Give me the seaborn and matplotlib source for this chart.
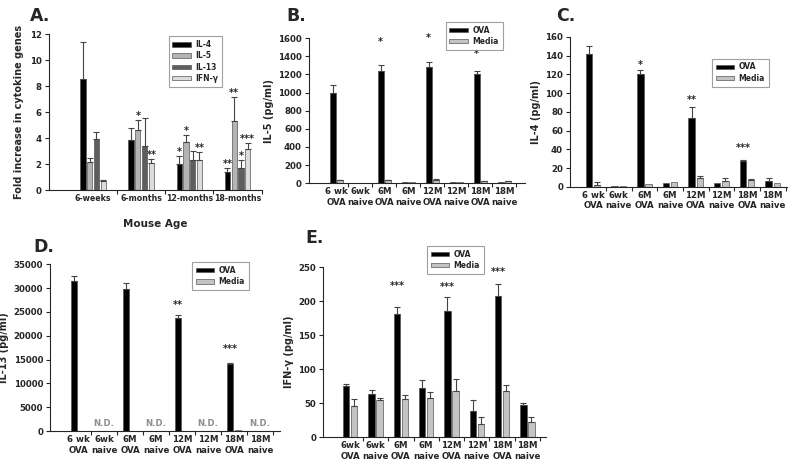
import numpy as np
import pandas as pd
import seaborn as sns
import matplotlib.pyplot as plt

# ---------- data ----------
ages = ["6-weeks", "6-months", "12-months", "18-months"]
genes = ["IL-4", "IL-5", "IL-13", "IFN-γ"]
fold_il4 = [8.55, 3.85, 2.0, 1.4]
fold_il5 = [2.15, 4.65, 3.7, 5.35]
fold_il13 = [3.9, 3.4, 2.35, 1.7]
fold_ifng = [0.7, 2.1, 2.3, 3.15]
fold_il4_err = [2.85, 0.95, 0.6, 0.3]
fold_il5_err = [0.35, 0.75, 0.55, 1.8]
fold_il13_err = [0.6, 2.15, 0.65, 0.65]
fold_ifng_err = [0.05, 0.3, 0.65, 0.45]
# significance: (age index, gene index, label, y)
stars_a = [(1, 1, "*", 5.7), (1, 3, "**", 2.7),
           (2, 0, "*", 2.9), (2, 1, "*", 4.55), (2, 3, "**", 3.25),
           (3, 0, "**", 2.0), (3, 1, "**", 7.45), (3, 2, "*", 2.65), (3, 3, "***", 3.95)]

groups = ["6 wk\nOVA", "6wk\nnaive", "6M\nOVA", "6M\nnaive",
          "12M\nOVA", "12M\nnaive", "18M\nOVA", "18M\nnaive"]
groups_e = ["6wk\nOVA", "6wk\nnaive", "6M\nOVA", "6M\nnaive",
            "12M\nOVA", "12M\nnaive", "18M\nOVA", "18M\nnaive"]

il5_ova = [1000, 5, 1240, 18, 1280, 8, 1210, 8]
il5_ova_err = [80, 0, 60, 0, 55, 0, 25, 0]
il5_media = [30, 3, 30, 15, 30, 8, 22, 20]
il5_media_err = [5, 0, 5, 0, 15, 0, 3, 3]
stars_b = [(2, "*", 1560), (4, "*", 1600), (6, "*", 1430)]

il4_ova = [142, 0.5, 120, 4, 73, 4, 28, 6]
il4_ova_err = [8, 0, 5, 0, 12, 0, 1, 3]
il4_media = [2, 0.5, 3, 5, 9, 6, 7, 4]
il4_media_err = [3, 0, 0, 0, 3, 3, 1, 0]
stars_c = [(2, "*", 130), (4, "**", 93), (6, "***", 41)]

il13_ova = [31500, 0, 29800, 0, 23700, 0, 14100, 0]
il13_ova_err = [1000, 0, 1200, 0, 600, 0, 200, 0]
il13_media = [100, 0, 100, 100, 0, 100, 200, 0]
il13_media_err = [0, 0, 0, 0, 0, 0, 0, 0]
stars_d = [(4, "**", 26500), (6, "***", 17200)]
nd_d = [1, 3, 5, 7]

ifng_ova = [75, 64, 181, 72, 186, 39, 207, 47]
ifng_ova_err = [3, 5, 10, 12, 20, 15, 18, 3]
ifng_media = [46, 55, 56, 58, 68, 19, 68, 22]
ifng_media_err = [10, 3, 6, 9, 17, 11, 9, 8]
stars_e = [(2, "***", 222), (4, "***", 220), (6, "***", 243)]

# ---------- style ----------
sns.set_theme(style="ticks")
plt.rcParams["font.family"] = ["DejaVu Sans"]
plt.rcParams["font.weight"] = "bold"
plt.rcParams["axes.labelweight"] = "bold"
plt.rcParams["axes.linewidth"] = 0.8

OVA_C = "#000000"
MEDIA_C = "#c4c4c4"
EDGE = "#555555"
TICK_FS = 6.2
STAR_FS = 7

fig = plt.figure(figsize=(8, 4.66), dpi=100)


def style_axis(ax, n, xlim, ylim, yticks, fs=TICK_FS, xfs=TICK_FS):
    sns.despine(ax=ax)
    ax.set_xlim(*xlim)
    ax.set_ylim(*ylim)
    ax.set_yticks(yticks)
    ax.tick_params(axis="y", length=3, width=0.8, labelsize=fs, pad=2)
    ax.tick_params(axis="x", which="major", length=0, labelsize=xfs, pad=3)
    ax.set_xticks(np.arange(n) + 0.5, minor=True)
    ax.tick_params(axis="x", which="minor", length=3, width=0.8)
    for t in ax.get_xticklabels() + ax.get_yticklabels():
        t.set_fontweight("bold")


def add_errors(ax, errs):
    for cont, err in zip(ax.containers, errs):
        for patch, e in zip(cont.patches, err):
            if e <= 0:
                continue
            x = patch.get_x() + patch.get_width() / 2
            h = patch.get_height()
            ax.errorbar(x, h, yerr=[[0], [e]], fmt="none", ecolor="#444444",
                        elinewidth=0.8, capsize=2, capthick=0.8)


def add_legend(ax, anchor, fs=5.5):
    leg = ax.legend(loc="upper left", bbox_to_anchor=anchor, frameon=True,
                    fancybox=False, fontsize=fs, handlelength=2.4, handleheight=0.5,
                    borderpad=0.5, labelspacing=0.3, handletextpad=0.6)
    leg.get_frame().set_edgecolor("#888888")
    leg.get_frame().set_linewidth(0.8)
    for t in leg.get_texts():
        t.set_fontweight("bold")


def pair_panel(rect, labels, ova, media, ova_err, media_err, xlim, ylim, yticks,
               ylabel, title, title_xy, leg_anchor):
    ax = fig.add_axes(rect)
    df = pd.DataFrame({
        "group": labels * 2,
        "value": ova + media,
        "stim": ["OVA"] * len(labels) + ["Media"] * len(labels),
    })
    sns.barplot(data=df, x="group", y="value", hue="stim", order=labels,
                hue_order=["OVA", "Media"], palette=[OVA_C, MEDIA_C],
                width=0.64, gap=0.22, errorbar=None, edgecolor=EDGE,
                linewidth=0.5, ax=ax)
    add_errors(ax, [ova_err, media_err])
    style_axis(ax, len(labels), xlim, ylim, yticks)
    ax.set_xlabel("")
    ax.set_ylabel(ylabel, fontsize=7, labelpad=3)
    add_legend(ax, leg_anchor)
    fig.text(title_xy[0], title_xy[1], title, fontsize=12.5, fontweight="bold",
             ha="left", va="center")
    return ax


def ova_x(ax, i):
    p = ax.containers[0].patches[i]
    return p.get_x() + p.get_width() / 2


# ---------- panel A ----------
axA = fig.add_axes([0.061, 0.592, 0.266, 0.335])
dfA = pd.DataFrame({
    "age": ages * 4,
    "fold": fold_il4 + fold_il5 + fold_il13 + fold_ifng,
    "gene": [g for g in genes for _ in ages],
})
sns.barplot(data=dfA, x="age", y="fold", hue="gene", order=ages, hue_order=genes,
            palette=["#000000", "#b4b4b4", "#5e5e5e", "#dcdcdc"],
            width=0.56, gap=0.22, errorbar=None, edgecolor=EDGE, linewidth=0.5, ax=axA)
add_errors(axA, [fold_il4_err, fold_il5_err, fold_il13_err, fold_ifng_err])
style_axis(axA, 4, (-0.92, 3.45), (0, 12), np.arange(0, 13, 2), xfs=5.7)
axA.set_xlabel("Mouse Age", fontsize=7.5, labelpad=11)
axA.set_ylabel("Fold increase in cytokine genes", fontsize=7, labelpad=4)
for gi, ci, s, y in stars_a:
    p = axA.containers[ci].patches[gi]
    axA.text(p.get_x() + p.get_width() / 2, y, s, ha="center", va="center",
             fontsize=STAR_FS, fontweight="bold")
add_legend(axA, (0.545, 1.01))
fig.text(0.037, 0.965, "A.", fontsize=12.5, fontweight="bold", ha="left", va="center")

# ---------- panel B ----------
axB = pair_panel([0.386, 0.607, 0.27, 0.311], groups, il5_ova, il5_media,
                 il5_ova_err, il5_media_err, (-1.15, 7.85), (0, 1600),
                 np.arange(0, 1601, 200), "IL-5 (pg/ml)", "B.", (0.358, 0.965),
                 (0.616, 1.14))
for i, s, y in stars_b:
    axB.text(ova_x(axB, i), y, s, ha="center", va="center", fontsize=STAR_FS, fontweight="bold")

# ---------- panel C ----------
axC = pair_panel([0.7125, 0.599, 0.271, 0.322], groups, il4_ova, il4_media,
                 il4_ova_err, il4_media_err, (-0.9, 7.55), (0, 160),
                 np.arange(0, 161, 20), "IL-4 (pg/ml)", "C.", (0.695, 0.965),
                 (0.636, 0.88))
for i, s, y in stars_c:
    axC.text(ova_x(axC, i), y, s, ha="center", va="center", fontsize=STAR_FS, fontweight="bold")

# ---------- panel D ----------
axD = pair_panel([0.0625, 0.075, 0.2875, 0.358], groups, il13_ova, il13_media,
                 il13_ova_err, il13_media_err, (-1.08, 7.77), (0, 35000),
                 np.arange(0, 35001, 5000), "IL-13 (pg/ml)", "D.", (0.042, 0.47),
                 (0.6, 1.036))
for i, s, y in stars_d:
    axD.text(ova_x(axD, i), y, s, ha="center", va="center", fontsize=STAR_FS, fontweight="bold")
for i in nd_d:
    axD.text(i, 1500, "N.D.", ha="center", va="center", fontsize=6.2,
             fontweight="bold", color="#909090")

# ---------- panel E ----------
axE = pair_panel([0.404, 0.062, 0.279, 0.365], groups_e, ifng_ova, ifng_media,
                 ifng_ova_err, ifng_media_err, (-1.07, 7.75), (0, 250),
                 np.arange(0, 251, 50), "IFN-γ (pg/ml)", "E.", (0.382, 0.49),
                 (0.448, 1.147))
for i, s, y in stars_e:
    axE.text(ova_x(axE, i), y, s, ha="center", va="center", fontsize=STAR_FS, fontweight="bold")

fig.savefig("out.png", dpi=100)
